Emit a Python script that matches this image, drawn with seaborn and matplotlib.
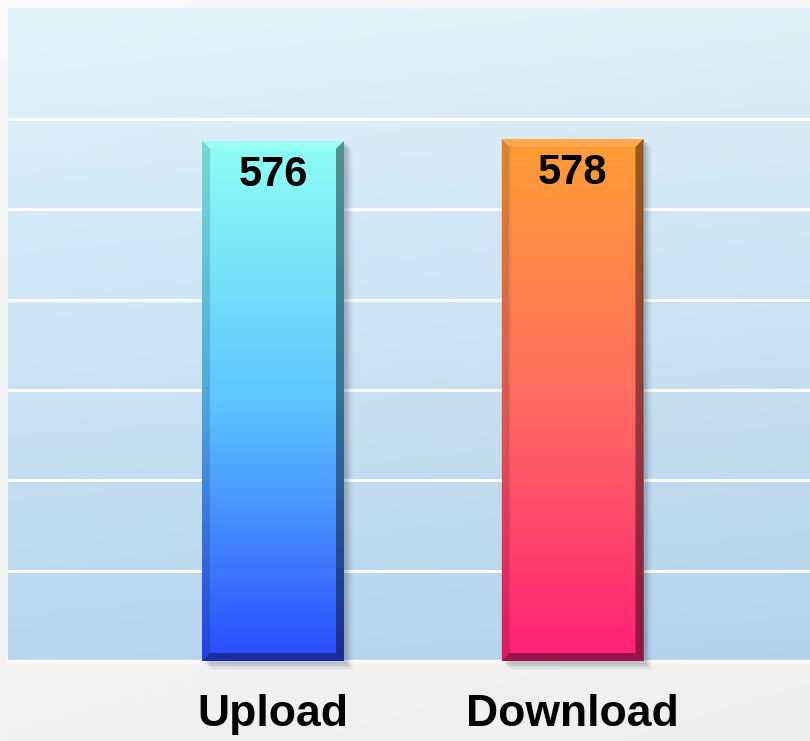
import numpy as np
import pandas as pd
import matplotlib
matplotlib.use("Agg")
import matplotlib.pyplot as plt
from matplotlib.colors import LinearSegmentedColormap, to_rgb
from matplotlib.patches import Polygon, Rectangle
import seaborn as sns

# ---- data ----
categories = ["Upload", "Download"]
values = [576, 578]
top_colors = ["#8EFFF3", "#FF9E35"]
mid_colors = ["#5CC6FF", "#FF6C62"]
bottom_colors = ["#2B4BFF", "#FF2076"]
grid_ticks = [100, 200, 300, 400, 500, 600]

sns.set_theme(style="white")
plt.rcParams["font.family"] = ["Liberation Sans", "DejaVu Sans"]

W, H = 810, 741
fig = plt.figure(figsize=(W / 100, H / 100), dpi=100)

# figure background gradient (light grey)
bg = fig.add_axes([0, 0, 1, 1], zorder=-10)
gy = np.linspace(0, 1, 200)[:, None]
gx = np.linspace(0, 1, 200)[None, :]
bgarr = np.clip(0.975 - 0.03 * gy - 0.01 * gx, 0, 1)
bgimg = np.dstack([bgarr, bgarr, bgarr])
bg.imshow(bgimg, extent=[0, 1, 0, 1], aspect="auto", origin="upper")
bg.axis("off")

ax = fig.add_axes([8 / W, 80 / H, 802 / W, 653 / H])
df = pd.DataFrame({"cat": categories, "val": values})
sns.barplot(data=df, x="cat", y="val", hue="cat", palette=bottom_colors,
            width=0.474, ax=ax, legend=False, zorder=3, linewidth=0,
            saturation=1)

xlim = (-0.885, 1.793)
ylim = (0, 723)
ax.set_xlim(*xlim)
ax.set_ylim(*ylim)

# plot area gradient background
c_top = np.array(to_rgb("#E3F3FA"))
c_bot = np.array(to_rgb("#B7D6EE"))
t = np.linspace(0, 1, 300)[:, None, None]
sx = np.linspace(0, 1, 300)[None, :, None]
area = c_top * (1 - t) + c_bot * t - 0.015 * sx
ax.imshow(np.clip(area, 0, 1), extent=[*xlim, *ylim], aspect="auto",
          origin="upper", zorder=0.1)

ax.set_yticks(grid_ticks)
ax.yaxis.grid(True, color="white", linewidth=2.2)
ax.set_axisbelow(True)
ax.set_yticklabels([])
ax.tick_params(axis="both", length=0)
ax.tick_params(axis="x", pad=24)
for s in ax.spines.values():
    s.set_visible(False)
ax.set_xlabel("")
ax.set_ylabel("")
ax.set_xticks(range(len(categories)))
ax.set_xticklabels(categories, fontsize=32, fontweight="bold", color="black")
ax.axhline(0, color="white", linewidth=2.5, zorder=2, clip_on=False)

# pixel scale
fig.canvas.draw()
p0 = ax.transData.transform((0, 0))
p1 = ax.transData.transform((1, 1))
px_x = p1[0] - p0[0]
px_y = p1[1] - p0[1]

bars = [p for p in ax.patches if isinstance(p, Rectangle)][:len(values)]
for i, bar in enumerate(bars):
    x0 = bar.get_x()
    w = bar.get_width()
    h = bar.get_height()
    # shadow
    for k, a in enumerate([0.10, 0.08, 0.06, 0.04, 0.03]):
        off = (3 + k * 1.5)
        ax.add_patch(Rectangle((x0 + off / px_x, -off / px_y), w, h,
                               facecolor="#203040", alpha=a, linewidth=0,
                               zorder=2.5, clip_on=False))
    # gradient
    cmap = LinearSegmentedColormap.from_list(
        f"g{i}", [bottom_colors[i], mid_colors[i], top_colors[i]])
    grad = np.linspace(0, 1, 256)[:, None]
    im = ax.imshow(grad, cmap=cmap, extent=[x0, x0 + w, 0, h],
                   aspect="auto", origin="lower", zorder=3.1)
    im.set_clip_path(bar)
    # bevels
    bx = 8 / px_x
    by = 8 / px_y
    left = Polygon([(x0, 0), (x0 + bx, by), (x0 + bx, h - by), (x0, h)],
                   closed=True, facecolor="black", alpha=0.15, lw=0, zorder=3.2)
    right = Polygon([(x0 + w, 0), (x0 + w - bx, by), (x0 + w - bx, h - by),
                     (x0 + w, h)], closed=True, facecolor="black", alpha=0.42,
                    lw=0, zorder=3.2)
    bottom = Polygon([(x0, 0), (x0 + w, 0), (x0 + w - bx, by), (x0 + bx, by)],
                     closed=True, facecolor="black", alpha=0.38, lw=0,
                     zorder=3.2)
    top = Polygon([(x0, h), (x0 + w, h), (x0 + w - bx, h - by),
                   (x0 + bx, h - by)], closed=True, facecolor="white",
                  alpha=0.12, lw=0, zorder=3.2)
    for pg in (left, right, bottom, top):
        ax.add_patch(pg)
    ax.text(x0 + w / 2, h - 34 / px_y, str(values[i]), ha="center",
            va="center", fontsize=30, fontweight="bold", color="black",
            zorder=4)

fig.savefig("out.png", dpi=100)
